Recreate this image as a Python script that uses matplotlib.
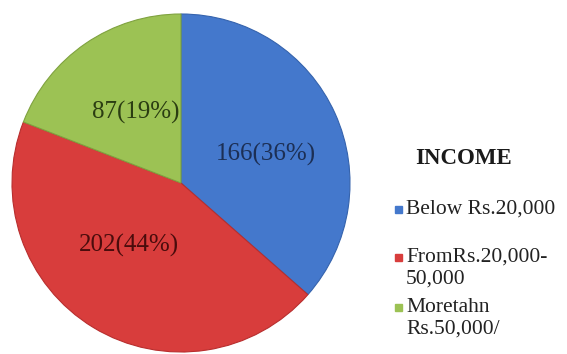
import numpy as np
import matplotlib.pyplot as plt
from matplotlib.patches import Rectangle

# income groups and respondent counts
categories = ['Below Rs.20,000', 'FromRs.20,000-\n50,000', 'Moretahn\nRs.50,000/']
counts = [166, 202, 87]
pcts = [36, 44, 19]
colors = ['#4478cc', '#d83d3c', '#9cc254']
rim_colors = ['#3563ad', '#b82e2e', '#7fa23f']
text_colors = ['#1c2f55', '#4a0c0c', '#2b3d12']
# label placement inside each slice (axes data units)
label_xy = [(0.50, 0.17), (-0.31, -0.37), (-0.27, 0.42)]

plt.rcParams['font.family'] = ['Liberation Serif', 'DejaVu Serif']

fig = plt.figure(figsize=(5.67, 3.54), dpi=100)
ax = fig.add_axes([12 / 567, 2 / 354, 338 / 567, 338 / 354])

labels = [f'{c}({p}%)' for c, p in zip(counts, pcts)]
wedges, _ = ax.pie(counts, colors=colors, startangle=90, counterclock=False,
                   wedgeprops=dict(linewidth=0))
for w, rc in zip(wedges, rim_colors):
    w.set_edgecolor(rc)
    w.set_linewidth(0.8)
ax.set_xlim(-1.0, 1.0)
ax.set_ylim(-1.0, 1.0)
ax.set_aspect('equal')

# value labels inside each slice
for (x, y), lab, col in zip(label_xy, labels, text_colors):
    ax.text(x, y, lab, ha='center', va='center', fontsize=18, color=col)

# legend
fig.text(464 / 567, 1 - 158 / 354, 'INCOME', ha='center', va='center',
         fontsize=16.5, fontweight='bold', color='#1a1a1a')
ys = [210, 258, 308]
for y, lab, col in zip(ys, categories, colors):
    fig.patches.append(Rectangle((395 / 567, 1 - (y + 3) / 354), 7 / 567, 7 / 354,
                                 transform=fig.transFigure, color=col))
    fig.text(406 / 567, 1 - (y - 10) / 354, lab, ha='left', va='top',
             fontsize=15.5, color='#222222', linespacing=1.2)

fig.savefig('out.png', dpi=100)
